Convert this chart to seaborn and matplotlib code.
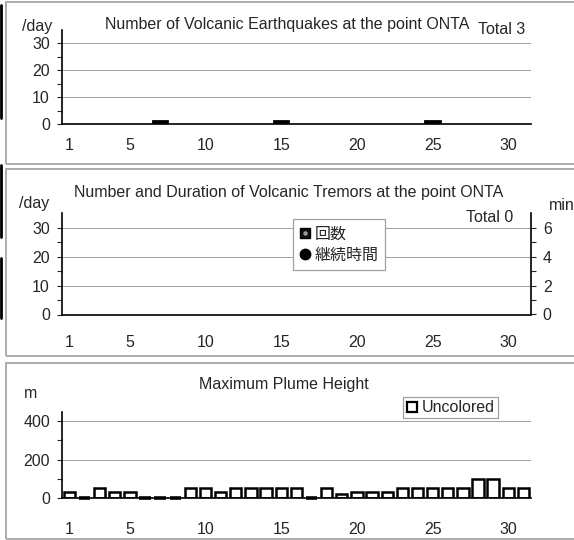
import matplotlib
matplotlib.use("Agg")
import matplotlib.pyplot as plt
import seaborn as sns
import numpy as np
from matplotlib.lines import Line2D
from matplotlib.patches import Rectangle

# daily values for the month
days = list(range(1, 32))
quake_count = [0, 0, 0, 0, 0, 0, 1, 0, 0, 0, 0, 0, 0, 0, 1, 0,
               0, 0, 0, 0, 0, 0, 0, 0, 1, 0, 0, 0, 0, 0, 0]
tremor_count = [0] * 31
tremor_minutes = [0] * 31
plume_height = [30, 0, 50, 30, 30, 0, 0, 0, 50, 50, 30, 50, 50, 50, 50, 50,
                0, 50, 20, 30, 30, 30, 50, 50, 50, 50, 50, 100, 100, 50, 50]
day_ticks = [1, 5, 10, 15, 20, 25, 30]

sns.set_style("white")
FONT = ["Liberation Sans", "Noto Sans CJK JP", "DejaVu Sans"]
plt.rcParams["font.family"] = FONT
plt.rcParams["font.size"] = 11.5
FS = 11.5

W, H = 574, 540
fig = plt.figure(figsize=(W / 100, H / 100), dpi=100)


def fx(px):
    return px / W


def fy(py):
    return 1 - py / H


def frame(y0, y1):
    fig.add_artist(Rectangle((fx(6), fy(y1)), fx(600) - fx(6), (y1 - y0) / H,
                             transform=fig.transFigure, fill=False,
                             edgecolor="#a6a6a6", lw=1.3, clip_on=False))


def make_axes(top, bottom):
    return fig.add_axes([fx(61.7), fy(bottom), (531 - 61.7) / W, (bottom - top) / H])


def style_axes(ax, ymax, major, minor, xpad):
    ax.set_xlim(-0.5, 30.5)
    ax.set_xticks([d - 1 for d in day_ticks])
    ax.set_xticklabels(day_ticks)
    ax.set_xticks(np.arange(-0.5, 31, 1), minor=True)
    ax.tick_params(axis="x", which="major", length=0, pad=xpad, labelsize=FS)
    ax.tick_params(axis="x", which="minor", length=3, width=0.7, color="#666666")
    ax.set_ylim(0, ymax)
    ax.set_yticks(major)
    ax.set_yticks(minor, minor=True)
    ax.tick_params(axis="y", which="both", length=3.5, width=0.8, direction="out",
                   left=True, pad=5, labelsize=FS)
    ax.set_xlabel("")
    ax.set_ylabel("")
    ax.set_axisbelow(True)
    ax.yaxis.grid(True, which="major", color="#a0a0a0", lw=0.7)
    for s in ["top", "right"]:
        ax.spines[s].set_visible(False)
    for s in ["left", "bottom"]:
        ax.spines[s].set_color("black")
        ax.spines[s].set_linewidth(1.2)


# ---- panel 1: volcanic earthquakes
frame(2, 164)
ax1 = make_axes(30, 124)
sns.barplot(x=days, y=quake_count, ax=ax1, color="#111111", saturation=1,
            width=0.95, linewidth=0, errorbar=None)
for p in ax1.patches:
    if p.get_height() > 0:
        p.set_edgecolor("black")
        p.set_linewidth(2)
style_axes(ax1, 35, [0, 10, 20, 30], [5, 15, 25], 10)
fig.text(fx(37), fy(26), "/day", ha="center", va="center", fontsize=FS)
fig.text(fx(287.5), fy(25), "Number of Volcanic Earthquakes at the point ONTA",
         ha="center", va="center", fontsize=FS)
fig.text(fx(502), fy(29), "Total %d" % sum(quake_count), ha="center", va="center",
         fontsize=FS)

# ---- panel 2: volcanic tremors
frame(169, 356)
ax2 = make_axes(213.3, 314.5)
sns.barplot(x=days, y=tremor_count, ax=ax2, color="#111111", saturation=1,
            width=0.8, linewidth=0, errorbar=None)
style_axes(ax2, 35, [0, 10, 20, 30], [5, 15, 25], 14.5)
ax2r = ax2.twinx()
if any(tremor_minutes):
    sns.scatterplot(x=[d - 1 for d in days], y=tremor_minutes, ax=ax2r,
                    color="black", s=30)
ax2r.set_ylim(0, 7)
ax2r.set_yticks([0, 2, 4, 6])
ax2r.set_yticks([1, 3, 5], minor=True)
ax2r.tick_params(axis="y", which="both", length=3.5, width=0.8, direction="out",
                 right=True, pad=5, labelsize=FS)
ax2r.set_ylabel("")
for s in ["top", "left", "bottom"]:
    ax2r.spines[s].set_visible(False)
ax2r.spines["right"].set_color("black")
ax2r.spines["right"].set_linewidth(1.2)
fig.text(fx(34), fy(203), "/day", ha="center", va="center", fontsize=FS)
fig.text(fx(562), fy(205), "min", ha="center", va="center", fontsize=FS)
fig.text(fx(289), fy(192), "Number and Duration of Volcanic Tremors at the point ONTA",
         ha="center", va="center", fontsize=FS)
fig.text(fx(513), fy(217), "Total %d" % sum(tremor_count), ha="right", va="center",
         fontsize=FS)
sq = Line2D([], [], marker="s", ls="none", color="black", markersize=6.5,
            markerfacecolor="#111111")
sq_dot = Line2D([], [], marker="o", ls="none", color="#9a9a9a", markersize=2.2)
dot = Line2D([], [], marker="o", ls="none", color="black", markersize=7.5)
leg2 = ax2r.legend([(sq, sq_dot), dot], ["回数", "継続時間"], loc="upper left",
                   bbox_to_anchor=(fx(292.7), fy(219.3)), bbox_transform=fig.transFigure,
                   frameon=True, fancybox=False, edgecolor="#a0a0a0", framealpha=1,
                   handlelength=0.7, handletextpad=0.2, borderpad=0.45,
                   labelspacing=0.4, borderaxespad=0, prop={"family": FONT, "size": FS})
leg2.get_frame().set_linewidth(0.9)

# ---- panel 3: plume height
frame(362.7, 539)
ax3 = make_axes(411.9, 497.6)
sns.barplot(x=days, y=plume_height, ax=ax3, color="white", saturation=1,
            width=0.75, edgecolor="black", linewidth=1.8, errorbar=None)
for p in ax3.patches:
    if p.get_height() == 0:
        ax3.plot([p.get_x(), p.get_x() + p.get_width()], [0, 0], color="black",
                 lw=2.6, solid_capstyle="butt", zorder=3, clip_on=False)
style_axes(ax3, 450, [0, 200, 400], [100, 300], 17.5)
fig.text(fx(31), fy(394), "m", ha="center", va="center", fontsize=FS)
fig.text(fx(284), fy(385), "Maximum Plume Height", ha="center", va="center",
         fontsize=FS)
h_plume = [Line2D([], [], marker="s", ls="none", markerfacecolor="white",
                  markeredgecolor="black", markeredgewidth=1.6, markersize=6.5)]
leg3 = ax3.legend(h_plume, ["Uncolored"], loc="upper left",
                  bbox_to_anchor=(fx(403), fy(397)), bbox_transform=fig.transFigure,
                  frameon=True, fancybox=False, edgecolor="#a0a0a0", framealpha=1,
                  handlelength=0.7, handletextpad=0.25, borderpad=0.2,
                  borderaxespad=0, prop={"family": FONT, "size": FS})
leg3.get_frame().set_linewidth(0.9)

# black marks at the left edge of the capture
for y0, y1 in [(5, 118), (165, 237), (258, 318)]:
    fig.add_artist(Line2D([fx(1.2), fx(1.2)], [fy(y0), fy(y1)], color="black",
                          lw=2, transform=fig.transFigure))

fig.savefig("out.png", dpi=100)
